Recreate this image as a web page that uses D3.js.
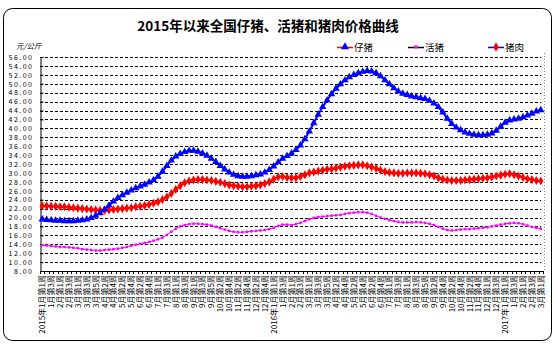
<!DOCTYPE html>
<html>
<head>
<meta charset="utf-8">
<script src="https://cdn.jsdelivr.net/npm/d3@7"></script>
<style>
  html, body { margin: 0; padding: 0; background: #fff; }
  svg { display: block; }
  text { font-family: "Noto Sans CJK SC", "DejaVu Sans", sans-serif; fill: #000; }
</style>
</head>
<body>
<svg id="chart" width="557" height="347"></svg>
<script>
// Weekly categories, 2015-01 week 1 through 2017-03 week 1
const weeks = [
  "2015年1月第1周","1月第2周","1月第3周","1月第4周","2月第1周","2月第2周","2月第3周","2月第4周",
  "3月第1周","3月第2周","3月第3周","3月第4周","3月第5周","4月第1周","4月第2周","4月第3周","4月第4周",
  "5月第1周","5月第2周","5月第3周","5月第4周","6月第1周","6月第2周","6月第3周","6月第4周","6月第5周",
  "7月第1周","7月第2周","7月第3周","7月第4周","8月第1周","8月第2周","8月第3周","8月第4周",
  "9月第1周","9月第2周","9月第3周","9月第4周","9月第5周","10月第1周","10月第2周","10月第3周","10月第4周",
  "11月第1周","11月第2周","11月第3周","11月第4周","12月第1周","12月第2周","12月第3周","12月第4周","12月第5周",
  "2016年1月第1周","1月第2周","1月第3周","1月第4周","2月第1周","2月第2周","2月第3周","2月第4周",
  "3月第1周","3月第2周","3月第3周","3月第4周","3月第5周","4月第1周","4月第2周","4月第3周","4月第4周",
  "5月第1周","5月第2周","5月第3周","5月第4周","6月第1周","6月第2周","6月第3周","6月第4周","6月第5周",
  "7月第1周","7月第2周","7月第3周","7月第4周","8月第1周","8月第2周","8月第3周","8月第4周","8月第5周",
  "9月第1周","9月第2周","9月第3周","9月第4周","10月第1周","10月第2周","10月第3周","10月第4周",
  "11月第1周","11月第2周","11月第3周","11月第4周","11月第5周","12月第1周","12月第2周","12月第3周","12月第4周",
  "2017年1月第1周","1月第2周","1月第3周","1月第4周","2月第1周","2月第2周","2月第3周","2月第4周","3月第1周"
];

// 仔猪 (元/公斤)
const piglet = [
  19.6,19.5,19.4,19.3,19.3,19.2,19.2,19.2,19.3,19.4,
  19.6,19.9,20.4,21.0,21.8,22.7,23.6,24.4,25.0,25.6,
  26.1,26.6,27.0,27.4,27.9,28.4,29.2,30.3,31.6,32.8,
  33.7,34.3,34.7,35.0,35.0,34.8,34.4,33.9,33.2,32.5,
  31.6,30.8,30.1,29.6,29.3,29.2,29.2,29.3,29.5,29.7,
  30.1,30.7,31.5,32.4,33.2,33.8,34.4,35.2,36.2,37.6,
  39.3,41.2,43.1,44.8,46.3,47.7,48.9,49.9,50.8,51.5,
  52.0,52.4,52.7,52.9,52.8,52.4,51.7,50.8,49.9,49.0,
  48.3,47.8,47.5,47.2,47.0,46.8,46.6,46.2,45.6,44.8,
  43.6,42.2,41.0,40.2,39.6,39.1,38.8,38.6,38.5,38.5,
  38.6,38.9,39.5,40.4,41.3,41.8,42.0,42.2,42.5,42.9,
  43.3,43.8,44.1
];

// 活猪 (元/公斤)
const hog = [
  13.8,13.7,13.6,13.5,13.4,13.4,13.3,13.2,13.1,12.9,
  12.8,12.7,12.6,12.6,12.7,12.8,12.9,13.0,13.2,13.4,
  13.7,13.9,14.1,14.3,14.5,14.8,15.1,15.5,16.1,16.8,
  17.5,18.0,18.3,18.5,18.6,18.6,18.5,18.4,18.2,17.9,
  17.6,17.3,17.0,16.8,16.7,16.7,16.8,16.9,17.0,17.1,
  17.2,17.4,17.7,18.1,18.4,18.4,18.3,18.5,18.8,19.2,
  19.6,19.9,20.1,20.2,20.3,20.4,20.5,20.6,20.8,21.0,
  21.1,21.2,21.2,21.1,20.8,20.4,20.0,19.7,19.4,19.2,
  19.0,18.9,18.9,18.9,19.0,18.9,18.8,18.6,18.3,17.9,
  17.5,17.2,17.1,17.2,17.3,17.4,17.4,17.5,17.6,17.7,
  17.8,18.0,18.2,18.4,18.6,18.7,18.8,18.7,18.5,18.2,
  17.9,17.7,17.5
];

// 猪肉 (元/公斤)
const pork = [
  22.6,22.6,22.5,22.5,22.4,22.4,22.3,22.2,22.1,22.0,
  21.9,21.8,21.7,21.6,21.6,21.7,21.8,21.9,22.0,22.1,
  22.2,22.4,22.5,22.7,22.9,23.2,23.5,24.0,24.6,25.4,
  26.3,27.1,27.8,28.2,28.4,28.5,28.5,28.4,28.3,28.1,
  27.9,27.6,27.3,27.1,27.0,26.9,26.9,27.0,27.1,27.3,
  27.6,28.0,28.6,29.1,29.2,29.0,28.9,28.9,29.2,29.6,
  30.0,30.2,30.4,30.6,30.8,30.9,31.1,31.3,31.5,31.6,
  31.7,31.8,31.8,31.6,31.3,31.0,30.6,30.3,30.1,30.0,
  29.9,29.9,30.0,30.0,30.0,29.9,29.8,29.6,29.3,28.9,
  28.6,28.4,28.3,28.3,28.3,28.4,28.5,28.6,28.7,28.8,
  28.9,29.1,29.3,29.5,29.7,29.8,29.6,29.3,29.0,28.7,
  28.5,28.3,28.2
];

const yTicks = [8,10,12,14,16,18,20,22,24,26,28,30,32,34,36,38,40,42,44,46,48,50,52,54,56];

const svg = d3.select("#chart");
const plot = { left: 40, right: 543, top: 57, bottom: 271 };

// Outer rounded frame
svg.append("rect")
  .attr("x", 3.5).attr("y", 8.5).attr("width", 548).attr("height", 332)
  .attr("rx", 9).attr("ry", 9)
  .attr("fill", "#fff").attr("stroke", "#000").attr("stroke-width", 1);

// Title
svg.append("text")
  .attr("x", 268).attr("y", 31)
  .attr("text-anchor", "middle")
  .attr("font-size", 13.5).attr("font-weight", "bold")
  .text("2015年以来全国仔猪、活猪和猪肉价格曲线");

// Unit
svg.append("text")
  .attr("x", 16).attr("y", 49)
  .attr("font-size", 7.5).attr("font-style", "italic")
  .text("元/公斤");

const x = d3.scaleBand().domain(d3.range(weeks.length)).range([plot.left, plot.right]);
const y = d3.scaleLinear().domain([8, 56]).range([plot.bottom, plot.top]);
const cx = i => x(i) + x.bandwidth() / 2;

// Dashed horizontal gridlines
svg.append("g").selectAll("line")
  .data(yTicks.filter(v => v > 8))
  .join("line")
  .attr("x1", plot.left).attr("x2", plot.right - 2)
  .attr("y1", d => Math.round(y(d)) + 0.5).attr("y2", d => Math.round(y(d)) + 0.5)
  .attr("stroke", "#000").attr("stroke-width", 1)
  .attr("stroke-dasharray", "3,2");

// Dotted right border of the plot area
svg.append("line")
  .attr("x1", plot.right + 1.5).attr("x2", plot.right + 1.5)
  .attr("y1", plot.top - 4).attr("y2", plot.bottom)
  .attr("stroke", "#888").attr("stroke-dasharray", "1,2");

// Y axis
const yAxis = d3.axisLeft(y).tickValues(yTicks).tickSize(-3).tickPadding(7)
  .tickFormat(d3.format(".2f"));
const gy = svg.append("g").attr("transform", `translate(${plot.left + 0.5},0)`).call(yAxis);
gy.select(".domain").attr("stroke", "#000");
gy.selectAll(".tick line").attr("stroke", "#000");
gy.selectAll(".tick text")
  .attr("font-size", 7).attr("letter-spacing", "1.5px")
  .attr("font-family", "'DejaVu Sans Mono', monospace");

// X axis baseline with small tick marks at every category boundary
svg.append("line")
  .attr("x1", plot.left).attr("x2", plot.right)
  .attr("y1", plot.bottom + 0.5).attr("y2", plot.bottom + 0.5)
  .attr("stroke", "#000");
svg.append("g").selectAll("line")
  .data(d3.range(weeks.length + 1))
  .join("line")
  .attr("x1", i => Math.round(plot.left + i * x.step()) + 0.5)
  .attr("x2", i => Math.round(plot.left + i * x.step()) + 0.5)
  .attr("y1", plot.bottom).attr("y2", plot.bottom + 3)
  .attr("stroke", "#000");

// Category labels: every second week, rotated to read upwards
svg.append("g").selectAll("text")
  .data(weeks.map((w, i) => ({ w, i })).filter(d => d.i % 2 === 0))
  .join("text")
  .attr("transform", d => `translate(${cx(d.i) + 3},${plot.bottom + 4}) rotate(-90)`)
  .attr("text-anchor", "end")
  .attr("font-size", 8)
  .text(d => d.w);

// Series
const line = d3.line().x((d, i) => cx(i)).y(d => y(d));

function drawSeries(values, lineColor, lineWidth, symbol, size, markColor) {
  const g = svg.append("g");
  g.append("path")
    .attr("d", line(values))
    .attr("fill", "none").attr("stroke", lineColor).attr("stroke-width", lineWidth);
  g.selectAll("path.m")
    .data(values)
    .join("path")
    .attr("class", "m")
    .attr("transform", (d, i) => `translate(${cx(i)},${y(d)})`)
    .attr("d", d3.symbol().type(symbol).size(size))
    .attr("fill", markColor);
}

drawSeries(hog, "#ff00ff", 1, d3.symbolSquare, 6, "#ff00ff");
drawSeries(pork, "#ff0000", 2, d3.symbolDiamond, 24, "#ff0000");
drawSeries(piglet, "#0000ff", 2, d3.symbolTriangle, 24, "#0000ff");

// Legend
const legend = [
  { name: "仔猪", lx: 337, line: "#ff0000", symbol: d3.symbolTriangle, size: 28, mark: "#0000ff" },
  { name: "活猪", lx: 408, line: "#000000", symbol: d3.symbolSquare, size: 10, mark: "#ff00ff" },
  { name: "猪肉", lx: 488, line: "#0000ff", symbol: d3.symbolDiamond, size: 26, mark: "#ff0000" }
];
const lg = svg.append("g").selectAll("g").data(legend).join("g")
  .attr("transform", d => `translate(${d.lx},47)`);
lg.append("line").attr("x1", 0).attr("x2", 16).attr("y1", 0.5).attr("y2", 0.5)
  .attr("stroke", d => d.line).attr("stroke-width", 1.5);
lg.append("path").attr("transform", "translate(8,0)")
  .attr("d", d => d3.symbol().type(d.symbol).size(d.size)())
  .attr("fill", d => d.mark);
lg.append("text").attr("x", 17).attr("y", 3.5).attr("font-size", 9.5).text(d => d.name);
</script>
</body>
</html>
